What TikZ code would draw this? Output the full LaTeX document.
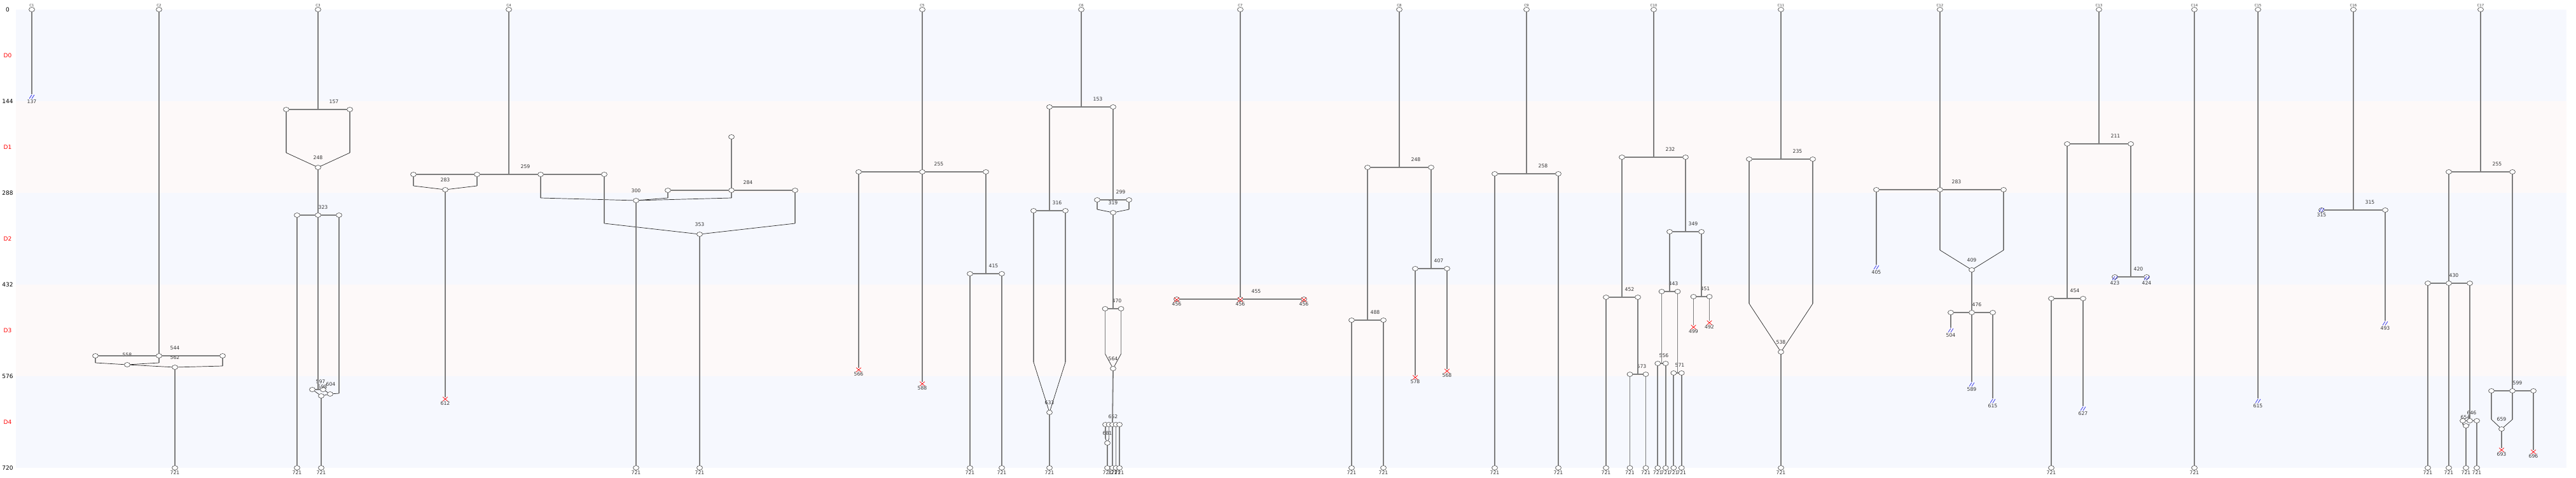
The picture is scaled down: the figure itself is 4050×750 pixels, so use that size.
\documentclass[tikz,border=0pt]{standalone}
\usepackage{fontspec}
\setmainfont{DejaVu Sans}
\usepackage{tikz}
\usetikzlibrary{positioning,shapes.geometric,shapes.misc}
\definecolor{bandblue}{RGB}{246,248,254}
\definecolor{bandpink}{RGB}{253,249,249}
\definecolor{linegray}{RGB}{125,125,125}
\definecolor{lostblue}{RGB}{40,40,235}

\begin{document}
\begin{tikzpicture}[
  x=1pt, y=-1pt,
  cell/.style={ellipse, draw=black!75, fill=white, line width=0.6pt,
               minimum width=9pt, minimum height=7pt, inner sep=0pt},
  dead/.style={cross out, draw=red, line width=0.7pt,
               minimum width=7pt, minimum height=6pt, inner sep=0pt},
  lost/.style={inner sep=0pt, minimum width=8pt, minimum height=7pt,
               path picture={\draw[lostblue, line width=0.7pt]
                 ([xshift=-4pt,yshift=-3pt]path picture bounding box.center) -- ++(4pt,6pt)
                 ([yshift=-3pt]path picture bounding box.center) -- ++(4pt,6pt);}},
  num/.style={font=\fontsize{7.7}{8}\selectfont, text=black!80, inner sep=0.5pt},
  cid/.style={font=\fontsize{5.5}{6}\selectfont, text=black!75, inner sep=0.5pt},
  ax/.style={font=\fontsize{9}{10}\selectfont},
  life/.style={draw=linegray, line width=1.8pt},
  fuse/.style={draw=black!85, line width=0.7pt},
]
\useasboundingbox (0,-15) rectangle (4050,735);
% stage bands
\fill[bandblue] (25,0) rectangle (4035,144);
\fill[bandpink] (25,144) rectangle (4035,288);
\fill[bandblue] (25,288) rectangle (4035,432);
\fill[bandpink] (25,432) rectangle (4035,576);
\fill[bandblue] (25,576) rectangle (4035,720);
\node[ax] (y0) at (12,0) {0};
\node[ax] (y144) at (12,144) {144};
\node[ax] (y288) at (12,288) {288};
\node[ax] (y432) at (12,432) {432};
\node[ax] (y576) at (12,576) {576};
\node[ax] (y720) at (12,720) {720};
\node[ax, red] (d0) at (12,72) {D0};
\node[ax, red] (d1) at (12,216) {D1};
\node[ax, red] (d2) at (12,360) {D2};
\node[ax, red] (d3) at (12,504) {D3};
\node[ax, red] (d4) at (12,648) {D4};

% C1
\node[cell] (r1) at (50,0) {};
\node[cid, above=0pt of r1] (n1) {C1};
\node[lost] (x1) at (50,137) {};
\node[num, below=0pt of x1] (t137) {137};
\draw[life] (r1) -- (x1.north);

% C2
\node[cell] (r2) at (250,0) {};
\node[cid, above=0pt of r2] (n2) {C2};
\node[cell] (c2m) at (250,544) {};
\node[cell] (c2l) at (150,544) {};
\node[cell] (c2r) at (350,544) {};
\node[num] (t544) at (275,532) {544};
\coordinate (k2l) at (150,555);
\coordinate (k2m) at (250,555);
\coordinate (k2r) at (350,560);
\node[cell] (f558) at (200,558) {};
\node[num] (t558) at (200,543) {558};
\node[cell] (f562) at (275,562) {};
\node[num] (t562) at (275,547) {562};
\node[cell] (e2) at (275,720) {};
\node[num, below=0pt of e2] (t2e) {721};
\draw[life] (r2) -- (c2m);
\draw[life] (c2l) -- (c2m);
\draw[life] (c2m) -- (c2r);
\draw[life] (c2l) -- (k2l);
\draw[life] (c2m) -- (k2m);
\draw[life] (c2r) -- (k2r);
\draw[fuse] (k2l) -- (f558) -- (k2m);
\draw[fuse] (f558) -- (f562) -- (k2r);
\draw[life] (f562) -- (e2);

% C3
\node[cell] (r3) at (500,0) {};
\node[cid, above=0pt of r3] (n3) {C3};
\coordinate (j3) at (500,157);
\node[cell] (c3l) at (450,157) {};
\node[cell] (c3r) at (550,157) {};
\node[num] (t157) at (525,145) {157};
\coordinate (k3l) at (450,225);
\coordinate (k3r) at (550,225);
\node[cell] (f248) at (500,248) {};
\node[num] (t248) at (500,233) {248};
\node[cell] (c3m) at (500,323) {};
\node[cell] (c3ml) at (467,323) {};
\node[cell] (c3mr) at (533,323) {};
\node[num] (t323) at (508,311) {323};
\node[cell] (e3a) at (467,720) {};
\node[num, below=0pt of e3a] (t3a) {721};
\coordinate (j597) at (500,597);
\node[cell] (c3p) at (491,597) {};
\node[cell] (c3q) at (508,597) {};
\node[num] (t597) at (504,585) {597};
\node[num] (t598) at (507,593) {598};
\coordinate (k604) at (533,603);
\node[cell] (f604) at (519,604) {};
\node[num] (t604) at (520,589) {604};
\node[cell] (f607) at (505,607) {};
\node[cell] (e3b) at (505,720) {};
\node[num, below=0pt of e3b] (t3b) {721};
\draw[life] (r3) -- (j3);
\draw[life] (c3l) -- (c3r);
\draw[life] (c3l) -- (k3l);
\draw[life] (c3r) -- (k3r);
\draw[fuse] (k3l) -- (f248) -- (k3r);
\draw[life] (f248) -- (c3m);
\draw[life] (c3ml) -- (c3m) -- (c3mr);
\draw[life] (c3ml) -- (e3a);
\draw[life] (c3m) -- (j597);
\draw[life] (c3p) -- (c3q);
\draw[life] (c3mr) -- (k604);
\draw[fuse] (k604) -- (f604) -- (c3q);
\draw[fuse] (c3p) -- (f607) -- (f604);
\draw[life] (f607) -- (e3b);

% C4
\node[cell] (r4) at (800,0) {};
\node[cid, above=0pt of r4] (n4) {C4};
\coordinate (j4) at (800,259);
\node[cell] (c4a) at (650,259) {};
\node[cell] (c4b) at (750,259) {};
\node[cell] (c4c) at (850,259) {};
\node[cell] (c4d) at (950,259) {};
\node[num] (t259) at (826,247) {259};
\coordinate (k4a) at (650,277);
\coordinate (k4b) at (750,277);
\node[cell] (f283) at (700,283) {};
\node[num] (t283a) at (700,268) {283};
\node[dead] (x612) at (700,612) {};
\node[num, below=0pt of x612] (t612) {612};
\coordinate (k4c) at (850,296);
\coordinate (k4d) at (950,336);
% cell entering at 200
\node[cell] (r4b) at (1150,200) {};
\node[cell] (c5m0) at (1150,284) {};
\node[cell] (c5l0) at (1050,284) {};
\node[cell] (c5r0) at (1250,284) {};
\node[num] (t284) at (1176,272) {284};
\coordinate (k5l0) at (1050,296);
\coordinate (k5m0) at (1150,296);
\coordinate (k5r0) at (1250,336);
\node[cell] (f300) at (1000,300) {};
\node[num] (t300) at (1000,285) {300};
\node[cell] (f353) at (1100,353) {};
\node[num] (t353) at (1100,338) {353};
\node[cell] (e4a) at (1000,720) {};
\node[num, below=0pt of e4a] (t4a) {721};
\node[cell] (e4b) at (1100,720) {};
\node[num, below=0pt of e4b] (t4b) {721};
\draw[life] (r4) -- (j4);
\draw[life] (c4a) -- (c4b) -- (c4c) -- (c4d);
\draw[life] (c4a) -- (k4a);
\draw[life] (c4b) -- (k4b);
\draw[fuse] (k4a) -- (f283) -- (k4b);
\draw[life] (f283) -- (x612.north);
\draw[life] (r4b) -- (c5m0);
\draw[life] (c5l0) -- (c5m0) -- (c5r0);
\draw[life] (c4c) -- (k4c);
\draw[life] (c5l0) -- (k5l0);
\draw[life] (c5m0) -- (k5m0);
\draw[fuse] (k4c) -- (f300) -- (k5l0);
\draw[fuse] (f300) -- (k5m0);
\draw[life] (c4d) -- (k4d);
\draw[life] (c5r0) -- (k5r0);
\draw[fuse] (k4d) -- (f353) -- (k5r0);
\draw[life] (f300) -- (e4a);
\draw[life] (f353) -- (e4b);

% C5
\node[cell] (r5) at (1450,0) {};
\node[cid, above=0pt of r5] (n5) {C5};
\node[cell] (c5m) at (1450,255) {};
\node[cell] (c5l) at (1350,255) {};
\node[cell] (c5r) at (1550,255) {};
\node[num] (t255a) at (1476,243) {255};
\node[dead] (x566) at (1350,566) {};
\node[num, below=0pt of x566] (t566) {566};
\node[dead] (x588) at (1450,588) {};
\node[num, below=0pt of x588] (t588) {588};
\coordinate (j415) at (1550,415);
\node[cell] (c5a) at (1525,415) {};
\node[cell] (c5b) at (1575,415) {};
\node[num] (t415) at (1562,403) {415};
\node[cell] (e5a) at (1525,720) {};
\node[num, below=0pt of e5a] (t5a) {721};
\node[cell] (e5b) at (1575,720) {};
\node[num, below=0pt of e5b] (t5b) {721};
\draw[life] (r5) -- (c5m);
\draw[life] (c5l) -- (c5m) -- (c5r);
\draw[life] (c5l) -- (x566.north);
\draw[life] (c5m) -- (x588.north);
\draw[life] (c5r) -- (j415);
\draw[life] (c5a) -- (c5b);
\draw[life] (c5a) -- (e5a);
\draw[life] (c5b) -- (e5b);

% C6
\node[cell] (r6) at (1700,0) {};
\node[cid, above=0pt of r6] (n6) {C6};
\coordinate (j153) at (1700,153);
\node[cell] (c6l) at (1650,153) {};
\node[cell] (c6r) at (1750,153) {};
\node[num] (t153) at (1726,141) {153};
\coordinate (j316) at (1650,316);
\node[cell] (c6la) at (1625,316) {};
\node[cell] (c6lb) at (1675,316) {};
\node[num] (t316) at (1662,304) {316};
\coordinate (k6la) at (1625,554);
\coordinate (k6lb) at (1675,554);
\node[cell] (f633) at (1650,633) {};
\node[num] (t633) at (1650,618) {633};
\node[cell] (e6a) at (1650,720) {};
\node[num, below=0pt of e6a] (t6a) {721};
\coordinate (j299) at (1750,299);
\node[cell] (c6ra) at (1725,299) {};
\node[cell] (c6rb) at (1775,299) {};
\node[num] (t299) at (1762,287) {299};
\coordinate (k6ra) at (1725,314);
\coordinate (k6rb) at (1775,314);
\node[cell] (f319) at (1750,319) {};
\node[num] (t319) at (1750,304) {319};
\coordinate (j470) at (1750,470);
\node[cell] (c6s) at (1737.5,470) {};
\node[cell] (c6t) at (1762.5,470) {};
\node[num] (t470) at (1756,458) {470};
\coordinate (k6s) at (1737.5,541);
\coordinate (k6t) at (1762.5,541);
\node[cell] (f564) at (1750,564) {};
\node[num] (t564) at (1750,549) {564};
\node[cell] (c6u1) at (1738,652) {};
\node[cell] (c6u2) at (1743.5,652) {};
\node[cell] (c6u3) at (1749,652) {};
\node[cell] (c6u4) at (1754.5,652) {};
\node[cell] (c6u5) at (1760,652) {};
\node[num] (t652) at (1750,640) {652};
\coordinate (k6u1) at (1738,674);
\coordinate (k6u2) at (1743.5,674);
\node[cell] (f681) at (1741,681) {};
\node[num] (t681) at (1741,666) {681};
\node[cell] (e6b) at (1741,720) {};
\node[cell] (e6c) at (1749,720) {};
\node[cell] (e6d) at (1754.5,720) {};
\node[cell] (e6e) at (1760,720) {};
\node[num, below=0pt of e6b] (t6b) {721};
\node[num, below=0pt of e6c] (t6c) {721};
\node[num, below=0pt of e6d] (t6d) {721};
\node[num, below=0pt of e6e] (t6e) {721};
\draw[life] (r6) -- (j153);
\draw[life] (c6l) -- (c6r);
\draw[life] (c6l) -- (j316);
\draw[life] (c6la) -- (c6lb);
\draw[life] (c6la) -- (k6la);
\draw[life] (c6lb) -- (k6lb);
\draw[fuse] (k6la) -- (f633) -- (k6lb);
\draw[life] (f633) -- (e6a);
\draw[life] (c6r) -- (j299);
\draw[life] (c6ra) -- (c6rb);
\draw[life] (c6ra) -- (k6ra);
\draw[life] (c6rb) -- (k6rb);
\draw[fuse] (k6ra) -- (f319) -- (k6rb);
\draw[life] (f319) -- (j470);
\draw[life] (c6s) -- (c6t);
\draw[life] (c6s) -- (k6s);
\draw[life] (c6t) -- (k6t);
\draw[fuse] (k6s) -- (f564) -- (k6t);
\draw[life] (f564) -- (c6u3);
\draw[life] (c6u1) -- (k6u1);
\draw[life] (c6u2) -- (k6u2);
\draw[fuse] (k6u1) -- (f681) -- (k6u2);
\draw[life] (f681) -- (e6b);
\draw[life] (c6u3) -- (e6c);
\draw[life] (c6u4) -- (e6d);
\draw[life] (c6u5) -- (e6e);

% C7
\node[cell] (r7) at (1950,0) {};
\node[cid, above=0pt of r7] (n7) {C7};
\node[cell] (c7m) at (1950,455) {};
\node[cell] (c7l) at (1850,455) {};
\node[cell] (c7r) at (2050,455) {};
\node[dead] (x7m) at (1950,456) {};
\node[dead] (x7l) at (1850,456) {};
\node[dead] (x7r) at (2050,456) {};
\node[num] (t455) at (1975,443) {455};
\node[num, below=0pt of x7l] (t7l) {456};
\node[num, below=0pt of x7m] (t7m) {456};
\node[num, below=0pt of x7r] (t7r) {456};
\draw[life] (r7) -- (c7m);
\draw[life] (c7l) -- (c7m) -- (c7r);

% C8
\node[cell] (r8) at (2200,0) {};
\node[cid, above=0pt of r8] (n8) {C8};
\coordinate (j248) at (2200,248);
\node[cell] (c8l) at (2150,248) {};
\node[cell] (c8r) at (2250,248) {};
\node[num] (t248b) at (2226,236) {248};
\coordinate (j488) at (2150,488);
\node[cell] (c8la) at (2125,488) {};
\node[cell] (c8lb) at (2175,488) {};
\node[num] (t488) at (2162,476) {488};
\node[cell] (e8a) at (2125,720) {};
\node[num, below=0pt of e8a] (t8a) {721};
\node[cell] (e8b) at (2175,720) {};
\node[num, below=0pt of e8b] (t8b) {721};
\coordinate (j407) at (2250,407);
\node[cell] (c8ra) at (2225,407) {};
\node[cell] (c8rb) at (2275,407) {};
\node[num] (t407) at (2262,395) {407};
\node[dead] (x578) at (2225,578) {};
\node[num, below=0pt of x578] (t578) {578};
\node[dead] (x568) at (2275,568) {};
\node[num, below=0pt of x568] (t568) {568};
\draw[life] (r8) -- (j248);
\draw[life] (c8l) -- (c8r);
\draw[life] (c8l) -- (j488);
\draw[life] (c8la) -- (c8lb);
\draw[life] (c8la) -- (e8a);
\draw[life] (c8lb) -- (e8b);
\draw[life] (c8r) -- (j407);
\draw[life] (c8ra) -- (c8rb);
\draw[life] (c8ra) -- (x578.north);
\draw[life] (c8rb) -- (x568.north);

% C9
\node[cell] (r9) at (2400,0) {};
\node[cid, above=0pt of r9] (n9) {C9};
\coordinate (j258) at (2400,258);
\node[cell] (c9l) at (2350,258) {};
\node[cell] (c9r) at (2450,258) {};
\node[num] (t258) at (2426,246) {258};
\node[cell] (e9a) at (2350,720) {};
\node[num, below=0pt of e9a] (t9a) {721};
\node[cell] (e9b) at (2450,720) {};
\node[num, below=0pt of e9b] (t9b) {721};
\draw[life] (r9) -- (j258);
\draw[life] (c9l) -- (c9r);
\draw[life] (c9l) -- (e9a);
\draw[life] (c9r) -- (e9b);

% C10
\node[cell] (r10) at (2600,0) {};
\node[cid, above=0pt of r10] (n10) {C10};
\coordinate (j232) at (2600,232);
\node[cell] (c10l) at (2550,232) {};
\node[cell] (c10r) at (2650,232) {};
\node[num] (t232) at (2626,220) {232};
\coordinate (j452) at (2550,452);
\node[cell] (c10a) at (2525,452) {};
\node[cell] (c10b) at (2575,452) {};
\node[num] (t452) at (2562,440) {452};
\node[cell] (e10a) at (2525,720) {};
\node[num, below=0pt of e10a] (t10a) {721};
\coordinate (j573) at (2575,573);
\node[cell] (c10c) at (2562.5,573) {};
\node[cell] (c10d) at (2587.5,573) {};
\node[num] (t573) at (2581,561) {573};
\node[cell] (e10c) at (2562.5,720) {};
\node[num, below=0pt of e10c] (t10c) {721};
\node[cell] (e10d) at (2587.5,720) {};
\node[num, below=0pt of e10d] (t10d) {721};
\coordinate (j349) at (2650,349);
\node[cell] (c10e) at (2625,349) {};
\node[cell] (c10f) at (2675,349) {};
\node[num] (t349) at (2662,337) {349};
\coordinate (j443) at (2625,443);
\node[cell] (c10g) at (2612.5,443) {};
\node[cell] (c10h) at (2637.5,443) {};
\node[num] (t443) at (2631,431) {443};
\coordinate (j556) at (2612.5,556);
\node[cell] (c10i) at (2606.25,556) {};
\node[cell] (c10j) at (2618.75,556) {};
\node[num] (t556) at (2616,544) {556};
\coordinate (j571) at (2637.5,571);
\node[cell] (c10k) at (2631.25,571) {};
\node[cell] (c10m) at (2643.75,571) {};
\node[num] (t571) at (2641,559) {571};
\node[cell] (e10i) at (2606.25,720) {};
\node[cell] (e10j) at (2618.75,720) {};
\node[cell] (e10k) at (2631.25,720) {};
\node[cell] (e10m) at (2643.75,720) {};
\node[num, below=0pt of e10i] (t10i) {721};
\node[num, below=0pt of e10j] (t10j) {721};
\node[num, below=0pt of e10k] (t10k) {721};
\node[num, below=0pt of e10m] (t10m) {721};
\coordinate (j451) at (2675,451);
\node[cell] (c10n) at (2662.5,451) {};
\node[cell] (c10p) at (2687.5,451) {};
\node[num] (t451) at (2681,439) {451};
\node[dead] (x499) at (2662.5,499) {};
\node[num, below=0pt of x499] (t499) {499};
\node[dead] (x492) at (2687.5,492) {};
\node[num, below=0pt of x492] (t492) {492};
\draw[life] (r10) -- (j232);
\draw[life] (c10l) -- (c10r);
\draw[life] (c10l) -- (j452);
\draw[life] (c10a) -- (c10b);
\draw[life] (c10a) -- (e10a);
\draw[life] (c10b) -- (j573);
\draw[life] (c10c) -- (c10d);
\draw[life] (c10c) -- (e10c);
\draw[life] (c10d) -- (e10d);
\draw[life] (c10r) -- (j349);
\draw[life] (c10e) -- (c10f);
\draw[life] (c10e) -- (j443);
\draw[life] (c10g) -- (c10h);
\draw[life] (c10g) -- (j556);
\draw[life] (c10i) -- (c10j);
\draw[life] (c10i) -- (e10i);
\draw[life] (c10j) -- (e10j);
\draw[life] (c10h) -- (j571);
\draw[life] (c10k) -- (c10m);
\draw[life] (c10k) -- (e10k);
\draw[life] (c10m) -- (e10m);
\draw[life] (c10f) -- (j451);
\draw[life] (c10n) -- (c10p);
\draw[life] (c10n) -- (x499.north);
\draw[life] (c10p) -- (x492.north);

% C11
\node[cell] (r11) at (2800,0) {};
\node[cid, above=0pt of r11] (n11) {C11};
\coordinate (j235) at (2800,235);
\node[cell] (c11l) at (2750,235) {};
\node[cell] (c11r) at (2850,235) {};
\node[num] (t235) at (2826,223) {235};
\coordinate (k11l) at (2750,462);
\coordinate (k11r) at (2850,462);
\node[cell] (f538) at (2800,538) {};
\node[num] (t538) at (2800,523) {538};
\node[cell] (e11) at (2800,720) {};
\node[num, below=0pt of e11] (t11) {721};
\draw[life] (r11) -- (j235);
\draw[life] (c11l) -- (c11r);
\draw[life] (c11l) -- (k11l);
\draw[life] (c11r) -- (k11r);
\draw[fuse] (k11l) -- (f538) -- (k11r);
\draw[life] (f538) -- (e11);

% C12
\node[cell] (r12) at (3050,0) {};
\node[cid, above=0pt of r12] (n12) {C12};
\node[cell] (c12m) at (3050,283) {};
\node[cell] (c12l) at (2950,283) {};
\node[cell] (c12r) at (3150,283) {};
\node[num] (t283b) at (3076,271) {283};
\node[lost] (x405) at (2950,405) {};
\node[num, below=0pt of x405] (t405) {405};
\coordinate (k12m) at (3050,378);
\coordinate (k12r) at (3150,378);
\node[cell] (f409) at (3100,409) {};
\node[num] (t409) at (3100,394) {409};
\node[cell] (c12n) at (3100,476) {};
\node[cell] (c12p) at (3067,476) {};
\node[cell] (c12q) at (3133,476) {};
\node[num] (t476) at (3108,464) {476};
\node[lost] (x504) at (3067,504) {};
\node[num, below=0pt of x504] (t504) {504};
\node[lost] (x589) at (3100,589) {};
\node[num, below=0pt of x589] (t589) {589};
\node[lost] (x615a) at (3133,615) {};
\node[num, below=0pt of x615a] (t615a) {615};
\draw[life] (r12) -- (c12m);
\draw[life] (c12l) -- (c12m) -- (c12r);
\draw[life] (c12l) -- (x405.north);
\draw[life] (c12m) -- (k12m);
\draw[life] (c12r) -- (k12r);
\draw[fuse] (k12m) -- (f409) -- (k12r);
\draw[life] (f409) -- (c12n);
\draw[life] (c12p) -- (c12n) -- (c12q);
\draw[life] (c12p) -- (x504.north);
\draw[life] (c12n) -- (x589.north);
\draw[life] (c12q) -- (x615a.north);

% C13
\node[cell] (r13) at (3300,0) {};
\node[cid, above=0pt of r13] (n13) {C13};
\coordinate (j211) at (3300,211);
\node[cell] (c13l) at (3250,211) {};
\node[cell] (c13r) at (3350,211) {};
\node[num] (t211) at (3326,199) {211};
\coordinate (j454) at (3250,454);
\node[cell] (c13a) at (3225,454) {};
\node[cell] (c13b) at (3275,454) {};
\node[num] (t454) at (3262,442) {454};
\node[cell] (e13) at (3225,720) {};
\node[num, below=0pt of e13] (t13) {721};
\node[lost] (x627) at (3275,627) {};
\node[num, below=0pt of x627] (t627) {627};
\coordinate (j420) at (3350,420);
\node[cell] (c13c) at (3325,420) {};
\node[cell] (c13d) at (3375,420) {};
\node[num] (t420) at (3362,408) {420};
\node[lost] (x423) at (3325,422) {};
\node[num, below=0pt of x423] (t423) {423};
\node[lost] (x424) at (3375,422) {};
\node[num, below=0pt of x424] (t424) {424};
\draw[life] (r13) -- (j211);
\draw[life] (c13l) -- (c13r);
\draw[life] (c13l) -- (j454);
\draw[life] (c13a) -- (c13b);
\draw[life] (c13a) -- (e13);
\draw[life] (c13b) -- (x627.north);
\draw[life] (c13r) -- (j420);
\draw[life] (c13c) -- (c13d);

% C14, C15
\node[cell] (r14) at (3450,0) {};
\node[cid, above=0pt of r14] (n14) {C14};
\node[cell] (e14) at (3450,720) {};
\node[num, below=0pt of e14] (t14) {721};
\draw[life] (r14) -- (e14);
\node[cell] (r15) at (3550,0) {};
\node[cid, above=0pt of r15] (n15) {C15};
\node[lost] (x615b) at (3550,615) {};
\node[num, below=0pt of x615b] (t615b) {615};
\draw[life] (r15) -- (x615b.north);

% C16
\node[cell] (r16) at (3700,0) {};
\node[cid, above=0pt of r16] (n16) {C16};
\coordinate (j315) at (3700,315);
\node[cell] (c16l) at (3650,315) {};
\node[cell] (c16r) at (3750,315) {};
\node[num] (t315a) at (3726,303) {315};
\node[lost] (x315) at (3650,315) {};
\node[num, below=0pt of x315] (t315b) {315};
\node[lost] (x493) at (3750,493) {};
\node[num, below=0pt of x493] (t493) {493};
\draw[life] (r16) -- (j315);
\draw[life] (c16l) -- (c16r);
\draw[life] (c16r) -- (x493.north);

% C17
\node[cell] (r17) at (3900,0) {};
\node[cid, above=0pt of r17] (n17) {C17};
\coordinate (j255) at (3900,255);
\node[cell] (c17l) at (3850,255) {};
\node[cell] (c17r) at (3950,255) {};
\node[num] (t255b) at (3926,243) {255};
\node[cell] (c17m) at (3850,430) {};
\node[cell] (c17a) at (3817,430) {};
\node[cell] (c17b) at (3883,430) {};
\node[num] (t430) at (3858,418) {430};
\node[cell] (e17a) at (3817,720) {};
\node[num, below=0pt of e17a] (t17a) {721};
\node[cell] (e17b) at (3850,720) {};
\node[num, below=0pt of e17b] (t17b) {721};
\node[cell] (c17c) at (3883,646) {};
\node[cell] (c17d) at (3872,646) {};
\node[cell] (c17e) at (3894,646) {};
\node[num] (t646) at (3886,634) {646};
\coordinate (k17d) at (3872,652);
\coordinate (k17c) at (3883,652);
\node[cell] (f654) at (3877,654) {};
\node[num] (t654) at (3876,641) {654};
\node[cell] (e17c) at (3877,720) {};
\node[num, below=0pt of e17c] (t17c) {721};
\node[cell] (e17d) at (3894,720) {};
\node[num, below=0pt of e17d] (t17d) {721};
\node[cell] (c17n) at (3950,599) {};
\node[cell] (c17p) at (3917,599) {};
\node[cell] (c17q) at (3983,599) {};
\node[num] (t599) at (3958,587) {599};
\coordinate (k17p) at (3917,644);
\coordinate (k17n) at (3950,644);
\node[cell] (f659) at (3933,659) {};
\node[num] (t659) at (3933,644) {659};
\node[dead] (x693) at (3933,692) {};
\node[num, below=0pt of x693] (t693) {693};
\node[dead] (x696) at (3983,695) {};
\node[num, below=0pt of x696] (t696) {696};
\draw[life] (r17) -- (j255);
\draw[life] (c17l) -- (c17r);
\draw[life] (c17l) -- (c17m);
\draw[life] (c17a) -- (c17m) -- (c17b);
\draw[life] (c17a) -- (e17a);
\draw[life] (c17m) -- (e17b);
\draw[life] (c17b) -- (c17c);
\draw[life] (c17d) -- (c17c) -- (c17e);
\draw[life] (c17d) -- (k17d);
\draw[fuse] (k17d) -- (f654) -- (k17c);
\draw[life] (f654) -- (e17c);
\draw[life] (c17e) -- (e17d);
\draw[life] (c17r) -- (c17n);
\draw[life] (c17p) -- (c17n) -- (c17q);
\draw[life] (c17p) -- (k17p);
\draw[life] (c17n) -- (k17n);
\draw[fuse] (k17p) -- (f659) -- (k17n);
\draw[life] (f659) -- (x693.north);
\draw[life] (c17q) -- (x696.north);
\end{tikzpicture}
\end{document}
